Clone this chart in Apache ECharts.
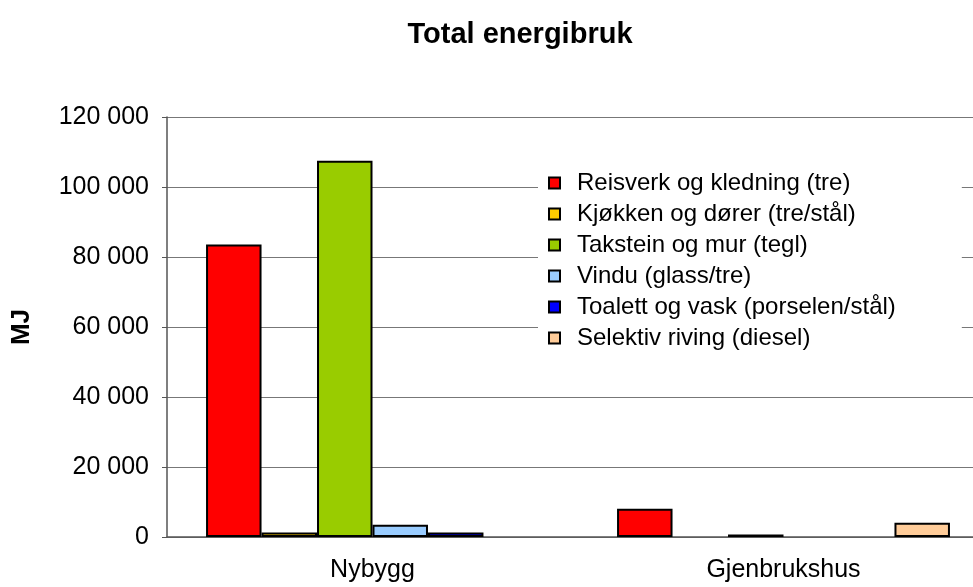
<!DOCTYPE html>
<html>
<head>
<meta charset="utf-8">
<script src="https://cdn.jsdelivr.net/npm/echarts@6/dist/echarts.min.js"></script>
<style>
html, body { margin: 0; padding: 0; background: #fff; overflow: hidden; }
/* plot runs past the right edge in the original, so the chart is a bit wider than the window */
#main { width: 989px; height: 587px; }
</style>
</head>
<body>
<div id="main"></div>
<script>
// data (MJ)
var categories = ['Nybygg', 'Gjenbrukshus'];
var seriesNames = [
    'Reisverk og kledning (tre)',
    'Kjøkken og dører (tre/stål)',
    'Takstein og mur (tegl)',
    'Vindu (glass/tre)',
    'Toalett og vask (porselen/stål)',
    'Selektiv riving (diesel)'
];
var reisverk = [83600, 8100];
var kjokken = [1300, 0];
var takstein = [107500, 700];
var vindu = [3500, 0];
var toalett = [1300, 0];
var riving = [0, 4100];
var yTicks = [0, 20000, 40000, 60000, 80000, 100000, 120000];

var colors = ['#FF0000', '#FFCC00', '#99CC00', '#99CCFF', '#0000FF', '#FFCC99'];
var values = [reisverk, kjokken, takstein, vindu, toalett, riving];

var myChart = echarts.init(document.getElementById('main'));

var series = [];
values.forEach(function (val, index) {
    series.push({
        name: seriesNames[index],
        type: 'bar',
        // 0 = no bar drawn (like the original)
        data: val.map(function (v) { return v === 0 ? null : v; }),
        barGap: 0,
        barCategoryGap: '19%',
        itemStyle: {
            color: colors[index],
            borderColor: '#000',
            borderWidth: 2
        },
        emphasis: { disabled: true }
    });
});

var option = {
    animation: false,
    textStyle: { fontFamily: 'Liberation Sans, Arial, sans-serif', color: '#000' },
    title: {
        text: 'Total energibruk',
        left: 515,
        top: 15,
        textAlign: 'center',
        textStyle: { fontSize: 29, fontWeight: 'bold', color: '#000' }
    },
    legend: {
        orient: 'vertical',
        left: 538,
        top: 165,
        backgroundColor: '#fff',
        padding: [5, 66, 10, 10],
        itemWidth: 11,
        itemHeight: 11,
        itemGap: 5,
        icon: 'rect',
        data: seriesNames,
        textStyle: { fontSize: 24, lineHeight: 26, color: '#000', padding: [0, 0, 0, 12] }
    },
    grid: {
        left: 167,
        top: 117,
        bottom: 50,
        right: 0
    },
    xAxis: {
        type: 'category',
        data: categories,
        axisLine: { lineStyle: { color: '#555', width: 1.5 } },
        axisTick: { length: 5, lineStyle: { color: '#555' } },
        axisLabel: { fontSize: 25, color: '#000', margin: 21 }
    },
    yAxis: {
        type: 'value',
        name: 'MJ',
        nameLocation: 'middle',
        nameGap: 132,
        nameTextStyle: { fontSize: 26, fontWeight: 'bold', color: '#000' },
        min: yTicks[0],
        max: yTicks[yTicks.length - 1],
        interval: yTicks[1] - yTicks[0],
        axisLine: { show: true, lineStyle: { color: '#555', width: 1.5 } },
        axisTick: { show: true, length: 5, lineStyle: { color: '#555' } },
        axisLabel: {
            fontSize: 25,
            color: '#000',
            margin: 18,
            formatter: function (v) {
                return String(v).replace(/\B(?=(\d{3})+(?!\d))/g, ' ');
            }
        },
        splitLine: { lineStyle: { color: '#777', width: 1 } }
    },
    series: series
};

myChart.setOption(option);
</script>
</body>
</html>
